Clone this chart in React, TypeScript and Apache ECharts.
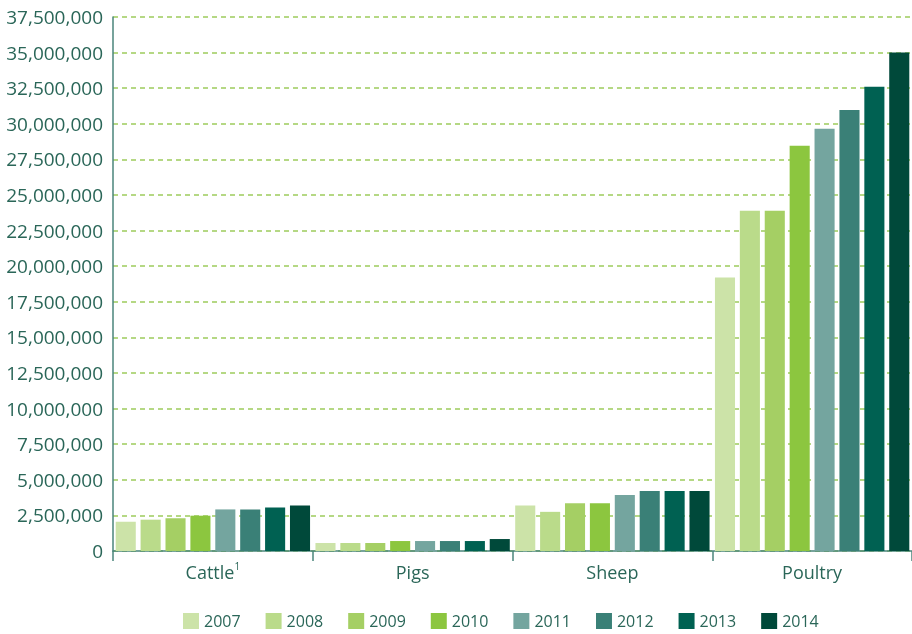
import React, { useEffect, useRef } from "react";
import * as echarts from "echarts";

const categories = ["Cattle", "Pigs", "Sheep", "Poultry"];
const years = ["2007", "2008", "2009", "2010", "2011", "2012", "2013", "2014"];
const colors = ["#cce3a8", "#badb8a", "#a5cf64", "#8cc63f", "#74a59f", "#3a8077", "#006152", "#00493a"];

const v2007 = [2050000, 560000, 3200000, 19200000];
const v2008 = [2200000, 560000, 2750000, 23900000];
const v2009 = [2300000, 560000, 3360000, 23900000];
const v2010 = [2480000, 700000, 3360000, 28450000];
const v2011 = [2920000, 700000, 3940000, 29650000];
const v2012 = [2920000, 700000, 4220000, 30970000];
const v2013 = [3060000, 700000, 4220000, 32600000];
const v2014 = [3200000, 840000, 4220000, 35000000];
const seriesValues = [v2007, v2008, v2009, v2010, v2011, v2012, v2013, v2014];

const textColor = "#2a6658";
const font = "'Open Sans', 'Noto Sans', sans-serif";

export default function App() {
  const ref = useRef<HTMLDivElement>(null);
  useEffect(() => {
    if (!ref.current) return;
    const chart = echarts.init(ref.current, undefined, { renderer: "svg" });
    chart.setOption({
      animation: false,
      textStyle: { fontFamily: font },
      grid: { left: 113, right: 0, top: 17, bottom: 83 },
      legend: {
        data: years,
        left: 183,
        top: 612,
        padding: 0,
        itemWidth: 16,
        itemHeight: 16,
        itemGap: 25,
        icon: "rect",
        textStyle: { fontSize: 16, lineHeight: 18, color: textColor, fontFamily: font },
      },
      xAxis: {
        type: "category",
        data: categories,
        axisLine: { lineStyle: { color: "#4a857b", width: 1.5 } },
        axisTick: { show: true, length: 10, lineStyle: { color: "#4a857b", width: 1.5 } },
        axisLabel: {
          margin: 10,
          color: textColor,
          fontFamily: font,
          formatter: (v: string) => (v === "Cattle" ? "{a|Cattle}{s|1}" : "{a|" + v + "}"),
          rich: {
            a: { fontSize: 18, color: textColor, fontFamily: font, lineHeight: 22 },
            s: { fontSize: 10, color: textColor, fontFamily: font, verticalAlign: "top", lineHeight: 14 },
          },
        },
      },
      yAxis: {
        type: "value",
        min: 0,
        max: 37500000,
        interval: 2500000,
        axisLine: { show: true, lineStyle: { color: "#4a857b", width: 1.5 } },
        axisTick: { show: false },
        axisLabel: {
          margin: 10,
          fontSize: 19,
          color: textColor,
          fontFamily: font,
          formatter: (v: number) => v.toLocaleString("en-US"),
        },
        splitLine: { show: true, lineStyle: { color: "#9dcb5c", type: [5, 4], width: 1.5 } },
      },
      series: seriesValues.map((vals, i) => ({
        name: years[i],
        type: "bar",
        data: vals,
        barGap: "24%",
        barCategoryGap: "2.7%",
        itemStyle: { color: colors[i] },
      })),
    });
    return () => chart.dispose();
  }, []);
  return <div ref={ref} style={{ position: "fixed", left: 0, top: 0, width: 912, height: 634 }} />;
}
